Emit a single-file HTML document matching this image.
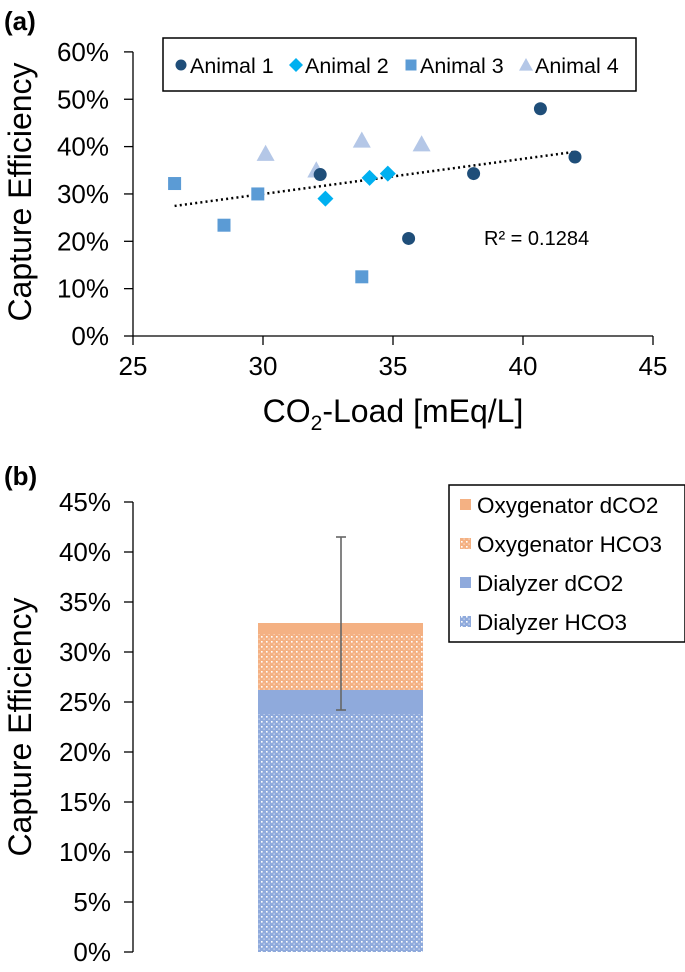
<!DOCTYPE html>
<html><head><meta charset="utf-8"><style>
body{margin:0;background:#fff;}
svg{display:block;font-family:"Liberation Sans",Arial,sans-serif;}
</style></head><body>
<svg id="fig" width="685" height="972" viewBox="0 0 685 972">
<defs>
<pattern id="dotO" width="5" height="5" patternUnits="userSpaceOnUse"><rect width="5" height="5" fill="#f4b183"/><rect x="1" y="1" width="1.6" height="1.6" fill="#fff"/><rect x="3.5" y="3.5" width="1.2" height="1.2" fill="#fbe3d3"/></pattern>
<pattern id="dotB" width="5" height="5" patternUnits="userSpaceOnUse"><rect width="5" height="5" fill="#8faadc"/><rect x="1" y="1" width="1.6" height="1.6" fill="#fff"/><rect x="3.5" y="3.5" width="1.2" height="1.2" fill="#dde5f4"/></pattern>
</defs>
<text x="4" y="30" font-size="26" font-weight="bold">(a)</text>
<text x="4" y="485" font-size="26" font-weight="bold">(b)</text>
<g id="a"></g>
<g id="b"></g>
</svg>
<script>
const NS="http://www.w3.org/2000/svg";
function mk(p,t,a,txt){const e=document.createElementNS(NS,t);for(const k in a)e.setAttribute(k,a[k]);if(txt!==undefined)e.textContent=txt;p.appendChild(e);return e;}

// ---- Panel (a) data ----
const a1x=[40.67,42.0,38.1,35.6,32.2];
const a1y=[48.0,37.8,34.3,20.6,34.1];
const a2x=[32.4,34.1,34.8];
const a2y=[29.0,33.4,34.3];
const a3x=[26.6,28.5,29.8,33.8];
const a3y=[32.2,23.4,30.0,12.5];
const a4x=[30.1,32.05,33.8,36.1];
const a4y=[38.5,35.0,41.3,40.5];
const xTicksA=[25,30,35,40,45];
const yTicksA=[0,10,20,30,40,50,60];

const A=document.getElementById('a');
const ax=v=>133+(v-25)*26;
const ay=v=>336-v*4.735;
let e=mk(A,'line',{x1:133,y1:ay(0),x2:ax(45),y2:ay(0),stroke:'#000','stroke-width':1.3});

e=mk(A,'line',{x1:133,y1:ay(60),x2:133,y2:ay(0),stroke:'#000','stroke-width':1.3});

xTicksA.forEach(t=>{mk(A,'line',{x1:ax(t),y1:ay(0),x2:ax(t),y2:ay(0)+9,stroke:'#000','stroke-width':1.3});
 e=mk(A,'text',{x:ax(t),y:375,'font-size':26,'text-anchor':'middle'},t);
 });
yTicksA.forEach(t=>{mk(A,'line',{x1:124,y1:ay(t),x2:133,y2:ay(t),stroke:'#000','stroke-width':1.3});
 e=mk(A,'text',{x:109,y:ay(t)+9,'font-size':26,'text-anchor':'end'},t+'%');
 });
e=mk(A,'text',{transform:'translate(31,192) rotate(-90)','font-size':32,'text-anchor':'middle'},'Capture Efficiency');

e=mk(A,'text',{x:393,y:422,'font-size':32,'text-anchor':'middle'});
e.innerHTML='CO<tspan font-size="21" dy="8">2</tspan><tspan dy="-8">-Load [mEq/L]</tspan>';

const allx=[...a1x,...a2x,...a3x,...a4x],ally=[...a1y,...a2y,...a3y,...a4y];
const n=allx.length,mx=allx.reduce((s,v)=>s+v,0)/n,my=ally.reduce((s,v)=>s+v,0)/n;
let sxy=0,sxx=0;for(let i=0;i<n;i++){sxy+=(allx[i]-mx)*(ally[i]-my);sxx+=(allx[i]-mx)**2;}
const sl=sxy/sxx,ic=my-sl*mx,x0=Math.min(...allx),x1=Math.max(...allx);
e=mk(A,'line',{x1:ax(x0),y1:ay(ic+sl*x0),x2:ax(x1),y2:ay(ic+sl*x1),stroke:'#000','stroke-width':2.5,'stroke-dasharray':'2 3.2'});

e=mk(A,'text',{x:484,y:245,'font-size':20},'R² = 0.1284');

function circ(g,x,y,s){return mk(g,'circle',{cx:x,cy:y,r:s||6.5,fill:'#1f4e79'});}
function dia(g,x,y,s){s=s||8;return mk(g,'polygon',{points:`${x},${y-s} ${x+s},${y} ${x},${y+s} ${x-s},${y}`,fill:'#00b0f0'});}
function sq(g,x,y,s){s=s||6.5;return mk(g,'rect',{x:x-s,y:y-s,width:2*s,height:2*s,fill:'#5b9bd5'});}
function tri(g,x,y,s){s=s||9;return mk(g,'polygon',{points:`${x},${y-s} ${x+s},${y+s*0.8} ${x-s},${y+s*0.8}`,fill:'#b4c7e7'});}
const series=[[a3x,a3y,sq,'animal-3-point'],[a4x,a4y,tri,'animal-4-point'],[a1x,a1y,circ,'animal-1-point'],[a2x,a2y,dia,'animal-2-point']];
series.forEach(([xs,ys,f,nm])=>xs.forEach((v,i)=>{const m=f(A,ax(v),ay(ys[i]));
 }));
const LA=mk(A,'g',{});

mk(LA,'rect',{x:163,y:38,width:473,height:53,fill:'#fff',stroke:'#000','stroke-width':1.5});
[[circ,'Animal 1',181,5.5],[dia,'Animal 2',296,7],[sq,'Animal 3',411,5.5],[tri,'Animal 4',526,7]].forEach(([f,t,x,s])=>{
 const g=mk(LA,'g',{});
 f(g,x,65,s);mk(g,'text',{x:x+9,y:73,'font-size':21.5},t);});

// ---- Panel (b) data ----
const segNames=['Dialyzer HCO3','Dialyzer dCO2','Oxygenator HCO3','Oxygenator dCO2'];
const segValues=[23.8,2.4,5.6,1.1];
const errLow=24.2, errHigh=41.5;
const yTicksB=[0,5,10,15,20,25,30,35,40,45];
const segFill=['url(#dotB)','#8faadc','url(#dotO)','#f4b183'];

const B=document.getElementById('b');
const by=v=>952-v*10;
e=mk(B,'line',{x1:133,y1:by(45),x2:133,y2:by(0),stroke:'#000','stroke-width':1.3});

yTicksB.forEach(t=>{mk(B,'line',{x1:124,y1:by(t),x2:133,y2:by(t),stroke:'#000','stroke-width':1.3});
 e=mk(B,'text',{x:111,y:by(t)+9,'font-size':26,'text-anchor':'end'},t+'%');
 });
e=mk(B,'text',{transform:'translate(31,727) rotate(-90)','font-size':32,'text-anchor':'middle'},'Capture Efficiency');

let cum=0;
segValues.forEach((v,i)=>{const r=mk(B,'rect',{x:258,y:by(cum+v),width:165,height:v*10,fill:segFill[i]});
 cum+=v;});
const ex=341;
e=mk(B,'g',{stroke:'#666','stroke-width':1.6});

mk(e,'line',{x1:ex,y1:by(errHigh),x2:ex,y2:by(errLow)});
mk(e,'line',{x1:ex-5,y1:by(errHigh),x2:ex+5,y2:by(errHigh)});
mk(e,'line',{x1:ex-5,y1:by(errLow),x2:ex+5,y2:by(errLow)});
const LB=mk(B,'g',{});

mk(LB,'rect',{x:449,y:485,width:236,height:157,fill:'#fff',stroke:'#000','stroke-width':1.5});
[3,2,1,0].forEach((k,j)=>{const yy=505+j*39;
 const g=mk(LB,'g',{});
 mk(g,'rect',{x:460,y:yy-6,width:11,height:11,fill:segFill[k]});
 mk(g,'text',{x:477,y:yy+8,'font-size':22.5},segNames[k]);});
</script>
</body></html>
